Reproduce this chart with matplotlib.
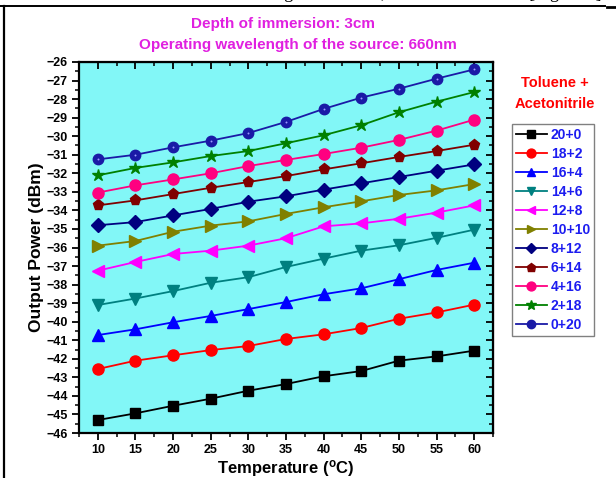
import matplotlib
matplotlib.use("Agg")
import matplotlib.pyplot as plt
from matplotlib.lines import Line2D

plt.rcParams["font.family"] = ["Liberation Sans", "DejaVu Sans"]
plt.rcParams["font.weight"] = "bold"

temps = [10, 15, 20, 25, 30, 35, 40, 45, 50, 55, 60]

mix_labels = ["20+0", "18+2", "16+4", "14+6", "12+8", "10+10",
              "8+12", "6+14", "4+16", "2+18", "0+20"]

p_20_0 = [-45.30, -44.94, -44.53, -44.15, -43.72, -43.36, -42.94, -42.66, -42.10, -41.87, -41.56]
p_18_2 = [-42.55, -42.10, -41.81, -41.53, -41.31, -40.93, -40.68, -40.34, -39.84, -39.50, -39.08]
p_16_4 = [-40.72, -40.41, -40.03, -39.69, -39.32, -38.94, -38.52, -38.20, -37.71, -37.21, -36.82]
p_14_6 = [-39.10, -38.75, -38.35, -37.90, -37.60, -37.05, -36.60, -36.17, -35.88, -35.48, -35.04]
p_12_8 = [-37.25, -36.78, -36.35, -36.17, -35.90, -35.50, -34.86, -34.70, -34.45, -34.12, -33.73]
p_10_10 = [-35.90, -35.65, -35.15, -34.82, -34.59, -34.19, -33.83, -33.51, -33.17, -32.92, -32.58]
p_8_12 = [-34.80, -34.63, -34.27, -33.92, -33.53, -33.24, -32.88, -32.54, -32.20, -31.86, -31.52]
p_6_14 = [-33.73, -33.46, -33.12, -32.78, -32.47, -32.15, -31.79, -31.46, -31.12, -30.80, -30.46]
p_4_16 = [-33.04, -32.65, -32.33, -32.00, -31.61, -31.28, -30.96, -30.62, -30.20, -29.70, -29.11]
p_2_18 = [-32.11, -31.71, -31.41, -31.07, -30.80, -30.38, -29.95, -29.41, -28.71, -28.14, -27.62]
p_0_20 = [-31.25, -31.00, -30.60, -30.24, -29.83, -29.23, -28.53, -27.92, -27.44, -26.90, -26.40]

series = [p_20_0, p_18_2, p_16_4, p_14_6, p_12_8, p_10_10,
          p_8_12, p_6_14, p_4_16, p_2_18, p_0_20]
colors = ["#000000", "#ff0000", "#0000ff", "#008080", "#ff00ff", "#808000",
          "#000080", "#800000", "#ff0080", "#008000", "#1a1aa6"]
markers = ["s", "o", "^", "v", "<", ">", "D", "p", "o", "*", "o"]
msizes = [7, 8, 8, 8, 8, 8, 7, 8, 8, 9, 7.5]

fig = plt.figure(figsize=(6.16, 4.78), dpi=100)
ax = fig.add_axes([0.1282, 0.0941, 0.6721, 0.7762])
ax.set_facecolor("#82f7f7")

for vals, c, m, ms, lab in zip(series, colors, markers, msizes, mix_labels):
    ax.plot(temps, vals, color=c, marker=m, markersize=ms, linewidth=1.3,
            markeredgecolor=c, label=lab)
# small shine on the 0+20 ball markers
ax.plot(temps, p_0_20, linestyle="none", marker="o", markersize=1.4,
        markerfacecolor="#9a9aff", markeredgecolor="none")

xminor = [7.5, 12.5, 17.5, 22.5, 27.5, 32.5, 37.5, 42.5, 47.5, 52.5, 57.5, 62.5]
ymajor = list(range(-46, -25))
yminor = [v + 0.5 for v in range(-46, -26)]

ax.set_xlim(7.6, 62.5)
ax.set_ylim(-46, -26)
ax.set_xticks(temps)
ax.set_xticks(xminor, minor=True)
ax.set_yticks(ymajor)
ax.set_yticks(yminor, minor=True)
ax.tick_params(which="major", direction="out", length=5, width=1.3, labelsize=9, pad=3)
ax.tick_params(which="minor", direction="out", length=3, width=1.1)
for lbl in ax.get_xticklabels() + ax.get_yticklabels():
    lbl.set_fontweight("bold")
for s in ax.spines.values():
    s.set_linewidth(1.6)

# inward ticks on the top and right frame
top = ax.secondary_xaxis("top")
top.set_xticks(temps)
top.set_xticks(xminor, minor=True)
top.tick_params(which="major", direction="in", length=5, width=1.3, labeltop=False)
top.tick_params(which="minor", direction="in", length=3, width=1.1)
right = ax.secondary_yaxis("right")
right.set_yticks(ymajor)
right.set_yticks(yminor, minor=True)
right.tick_params(which="major", direction="in", length=5, width=1.3, labelright=False)
right.tick_params(which="minor", direction="in", length=3, width=1.1)

ax.set_xlabel("Temperature ($\\mathregular{^o}$C)", fontsize=12, fontweight="bold", labelpad=1)
ax.set_ylabel("Output Power (dBm)", fontsize=12.5, fontweight="bold", labelpad=2)

fig.text(283 / 616, 1 - 24 / 478, "Depth of immersion: 3cm", color="#e020e0",
         fontsize=11, fontweight="bold", ha="center", va="center")
fig.text(298 / 616, 1 - 45 / 478, "Operating wavelength of the source: 660nm", color="#e020e0",
         fontsize=11, fontweight="bold", ha="center", va="center")

fig.text(555 / 616, 1 - 83 / 478, "Toluene +", color="#ff0000",
         fontsize=10.5, fontweight="bold", ha="center", va="center")
fig.text(555 / 616, 1 - 104 / 478, "Acetonitrile", color="#ff0000",
         fontsize=10.5, fontweight="bold", ha="center", va="center")

leg = ax.legend(loc="upper left", bbox_to_anchor=(512 / 616, 1 - 124 / 478),
                bbox_transform=fig.transFigure, borderaxespad=0, fancybox=False,
                framealpha=1, edgecolor="#808080", handlelength=2.2,
                handletextpad=0.3, labelspacing=0.36, borderpad=0.3,
                prop={"size": 10, "weight": "bold"}, markerscale=0.8)
leg.get_frame().set_linewidth(1.0)
for t in leg.get_texts():
    t.set_color("#1c1cf0")

# page frame and the clipped caption line above it
fig.text(606 / 616, 1 + 2 / 478, "wavelength of 660nm, 850nm and 950nm [Figure 5].",
         fontsize=13, family="Liberation Serif", fontweight="normal",
         ha="right", va="baseline")
fig.add_artist(Line2D([0, 605 / 616], [1 - 6 / 478, 1 - 6 / 478],
                      transform=fig.transFigure, color="black", linewidth=1.4))
fig.add_artist(Line2D([607 / 616, 1], [1 - 6.5 / 478, 1 - 6.5 / 478],
                      transform=fig.transFigure, color="black", linewidth=2))
fig.add_artist(Line2D([4 / 616, 4 / 616], [0, 1 - 6 / 478],
                      transform=fig.transFigure, color="black", linewidth=1.6))

fig.savefig("out.png", dpi=100)
